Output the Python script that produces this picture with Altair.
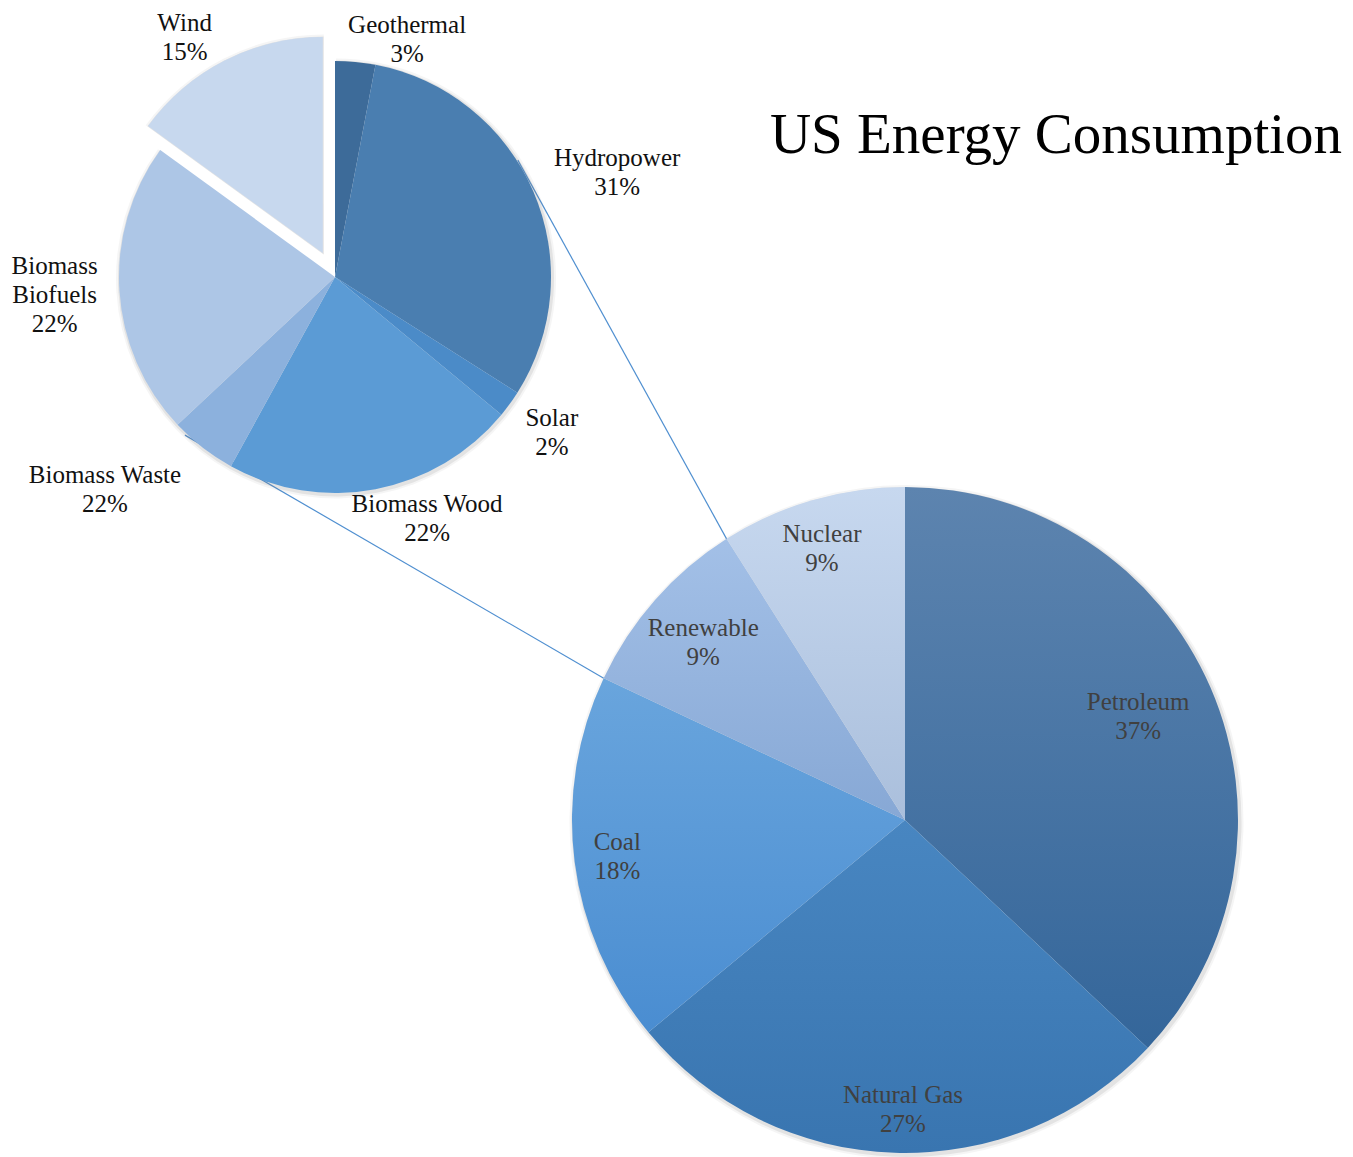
import math
import altair as alt
import pandas as pd

# ---------------- data ----------------
title_text = "US Energy Consumption"

total_names = ["Petroleum", "Natural Gas", "Coal", "Renewable", "Nuclear"]
total_values = [37, 27, 18, 9, 9]
total_labels = ["Petroleum\n37%", "Natural  Gas\n27%", "Coal\n18%", "Renewable\n9%", "Nuclear\n9%"]

renew_names = ["Geothermal", "Hydropower", "Solar", "Biomass Wood", "Biomass Waste", "Biomass Biofuels", "Wind"]
renew_values = [3, 31, 2, 22, 5, 22, 15]
renew_labels = ["Geothermal\n3%", "Hydropower\n31%", "Solar\n2%", "Biomass  Wood\n22%",
                "Biomass  Waste\n22%", "Biomass\nBiofuels\n22%", "Wind\n15%"]

# ---------------- styles / layout ----------------
OFF = 8  # page margin
BIG_CX, BIG_CY, BIG_R = 905 - OFF, 820 - OFF, 333
SM_CX, SM_CY, SM_R = 335 - OFF, 277 - OFF, 216
EXPLODE = 27
LH = 29  # label line height

big_grad = [("#5d84af", "#34669a"), ("#4886c1", "#3975b0"), ("#69a5dd", "#4a8dd1"),
            ("#a3c0e7", "#87a8d5"), ("#c7d8ef", "#aabfdc")]
small_cols = ["#3d6b99", "#4a7eb0", "#4b8bc8", "#5b9bd5", "#8cb1dd", "#adc6e6", "#c7d8ee"]

big_label_shift = [-0.5, -1.4, 0, 0, -0.8]
big_label_r = [255, 290, 290, 269, 284]
small_label_shift = [11.5, 3, -0.3, -10.1, 9.5, -0.1, -5.1]
small_label_r = [248, 301, 267, 258, 313, 281, 283]


def frame(names, values, labels):
    tot = float(sum(values))
    rows, acc = [], 0.0
    for n, v, l in zip(names, values, labels):
        rows.append({"name": n, "value": v, "label": l,
                     "start": acc / tot, "end": (acc + v) / tot})
        acc += v
    df = pd.DataFrame(rows)
    df["mid_deg"] = (df["start"] + df["end"]) / 2 * 360
    return df


def pt(cx, cy, r, deg):
    a = math.radians(deg)
    return cx + r * math.sin(a), cy - r * math.cos(a)


def place_labels(df, cx, cy, shifts, radii):
    # block centre at (mid angle + shift, radius); Vega puts the first line at y,
    # so move the anchor up by half the block height
    lts, lrs = [], []
    for (_, row), s, r in zip(df.iterrows(), shifts, radii):
        bx, by = pt(cx, cy, r, row["mid_deg"] + s)
        n = row["label"].count("\n") + 1
        fy = by - (n - 1) * LH / 2
        dx, dy = bx - cx, fy - cy
        lrs.append(math.hypot(dx, dy))
        lts.append(math.atan2(dx, -dy) % (2 * math.pi))
    df["lt"] = lts
    df["lr"] = lrs
    return df


big = place_labels(frame(total_names, total_values, total_labels),
                   BIG_CX, BIG_CY, big_label_shift, big_label_r)
small = place_labels(frame(renew_names, renew_values, renew_labels),
                     SM_CX, SM_CY, small_label_shift, small_label_r)

theta_scale = alt.Scale(domain=[0, 1], range=[0, 2 * math.pi])

# connector lines (from renewable slice edges of the big pie to the small pie)
ren = big[big["name"] == "Renewable"].iloc[0]
p1a = pt(SM_CX, SM_CY, SM_R + 1, 57.4)
p1b = pt(BIG_CX, BIG_CY, BIG_R, ren["end"] * 360)
p2a = pt(SM_CX, SM_CY, SM_R + 2, 223.5)
p2b = pt(BIG_CX, BIG_CY, BIG_R, ren["start"] * 360)
lines = pd.DataFrame({"x": [p1a[0], p2a[0]], "y": [p1a[1], p2a[1]],
                      "x2": [p1b[0], p2b[0]], "y2": [p1b[1], p2b[1]]})

layers = []

layers.append(
    alt.Chart(lines).mark_rule(color="#4f8fd0", strokeWidth=1.2).encode(
        x=alt.X("x:Q", scale=None, axis=None),
        y=alt.Y("y:Q", scale=None, axis=None),
        x2="x2:Q", y2="y2:Q")
)

# shadows
wind = small[small["name"] == "Wind"].iloc[0]
wcx, wcy = pt(SM_CX, SM_CY, EXPLODE, wind["mid_deg"])
for r_add, op in [(4, 0.08), (2, 0.15)]:
    layers.append(
        alt.Chart(big).mark_arc(outerRadius=BIG_R + r_add, color="#7f7f7f", opacity=op).encode(
            theta=alt.Theta("start:Q", scale=theta_scale), theta2="end:Q",
            x=alt.value(BIG_CX + 1.5), y=alt.value(BIG_CY + 2))
    )
    layers.append(
        alt.Chart(small).transform_filter(alt.datum.name != "Wind").mark_arc(
            outerRadius=SM_R + r_add, color="#7f7f7f", opacity=op).encode(
            theta=alt.Theta("start:Q", scale=theta_scale), theta2="end:Q",
            x=alt.value(SM_CX + 1), y=alt.value(SM_CY + 1.5))
    )
    layers.append(
        alt.Chart(small).transform_filter(alt.datum.name == "Wind").mark_arc(
            outerRadius=SM_R + r_add, color="#7f7f7f", opacity=op).encode(
            theta=alt.Theta("start:Q", scale=theta_scale), theta2="end:Q",
            x=alt.value(wcx + 1), y=alt.value(wcy + 1.5))
    )

# big pie slices with vertical gradients
for name, (c0, c1) in zip(total_names, big_grad):
    grad = alt.LinearGradient(gradient="linear",
                              stops=[alt.GradientStop(color=c0, offset=0),
                                     alt.GradientStop(color=c1, offset=1)],
                              x1=0, x2=0, y1=0, y2=1)
    layers.append(
        alt.Chart(big).transform_filter(alt.datum.name == name).mark_arc(
            outerRadius=BIG_R, color=grad).encode(
            theta=alt.Theta("start:Q", scale=theta_scale), theta2="end:Q",
            x=alt.value(BIG_CX), y=alt.value(BIG_CY))
    )

# small pie slices
for name, col in zip(renew_names, small_cols):
    if name == "Wind":
        cx, cy = wcx, wcy
    else:
        cx, cy = SM_CX, SM_CY
    layers.append(
        alt.Chart(small).transform_filter(alt.datum.name == name).mark_arc(
            outerRadius=SM_R, color=col).encode(
            theta=alt.Theta("start:Q", scale=theta_scale), theta2="end:Q",
            x=alt.value(cx), y=alt.value(cy))
    )

# labels
layers.append(
    alt.Chart(big).mark_text(font="Liberation Serif", fontSize=25, lineHeight=LH,
                             lineBreak="\n", color="#404040", align="center",
                             baseline="middle").encode(
        text="label:N",
        theta=alt.Theta("lt:Q", scale=None),
        radius=alt.Radius("lr:Q", scale=None),
        x=alt.value(BIG_CX), y=alt.value(BIG_CY))
)
layers.append(
    alt.Chart(small).mark_text(font="Liberation Serif", fontSize=25, lineHeight=LH,
                               lineBreak="\n", color="#111111", align="center",
                               baseline="middle").encode(
        text="label:N",
        theta=alt.Theta("lt:Q", scale=None),
        radius=alt.Radius("lr:Q", scale=None),
        x=alt.value(SM_CX), y=alt.value(SM_CY))
)

# title
layers.append(
    alt.Chart(pd.DataFrame({"t": [title_text]})).mark_text(
        font="Liberation Serif", fontSize=57, color="#000000", align="center",
        baseline="alphabetic").encode(
        text="t:N", x=alt.value(1056 - OFF), y=alt.value(153 - OFF))
)

chart = alt.layer(*layers).properties(
    width=1337, height=1141, padding=0, background="white"
).configure_view(stroke=None)

chart.save("out.html", embed_options={"renderer": "svg", "actions": False})
